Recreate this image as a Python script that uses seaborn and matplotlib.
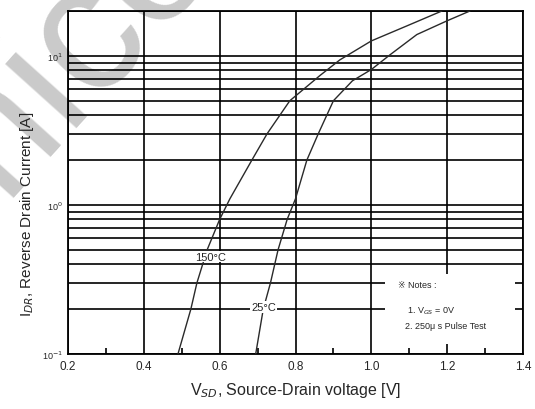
import matplotlib
matplotlib.use("Agg")
import matplotlib.pyplot as plt
from matplotlib.patches import Rectangle
from matplotlib.ticker import LogLocator, NullFormatter
import seaborn as sns
import pandas as pd
import numpy as np

# values
v_150 = [0.49, 0.524, 0.54, 0.567, 0.60, 0.627, 0.685, 0.725, 0.785, 0.865, 0.917, 1.0, 1.094, 1.186]
i_150 = [0.1, 0.2, 0.3, 0.5, 0.8, 1.1, 2, 3, 5, 7.4, 9.4, 12.6, 15.9, 20]
v_25 = [0.695, 0.715, 0.734, 0.754, 0.778, 0.80, 0.83, 0.86, 0.90, 0.95, 1.0, 1.05, 1.12, 1.2, 1.26]
i_25 = [0.1, 0.2, 0.3, 0.5, 0.8, 1.1, 2, 3, 5, 6.8, 8.1, 10.2, 13.9, 17.2, 20]

x_ticks = [0.2, 0.4, 0.6, 0.8, 1.0, 1.2, 1.4]
x_ticklabels = ["0.2", "0.4", "0.6", "0.8", "1.0", "1.2", "1.4"]
x_minor = [0.3, 0.5, 0.7, 0.9, 1.1, 1.3]
y_ticks = [0.1, 1, 10]
y_ticklabels = ["10$^{-1}$", "10$^{0}$", "10$^{1}$"]

curve_labels = ["150°C", "25°C"]
label_pos = [(0.577, 0.45), (0.716, 0.207)]
notes = ["※ Notes :", "1. V$_{GS}$ = 0V", "2. 250μ s Pulse Test"]

df = pd.concat([
    pd.DataFrame({"V": v_150, "I": i_150, "T": "150"}),
    pd.DataFrame({"V": v_25, "I": i_25, "T": "25"}),
])

sns.set_style("white")
plt.rcParams["font.family"] = ["Liberation Sans", "DejaVu Sans"]

fig = plt.figure(figsize=(5.35, 4.10), dpi=100)
ax = fig.add_axes([68 / 535, 1 - 355 / 410, 455 / 535, 343 / 410])
ax.patch.set_alpha(0)
ax.set_zorder(1)

# faint watermark behind the grid
fig.text(-35 / 535, 1 - 240 / 410, "mico", rotation=48, rotation_mode="anchor",
         ha="left", va="baseline", fontsize=130, color="#cacaca", zorder=0)

sns.lineplot(data=df, x="V", y="I", units="T", estimator=None, sort=False,
             color="#2a2a2a", lw=1.0, ax=ax, legend=False, zorder=3)

ax.set_yscale("log")
ax.set_xlim(0.2, 1.4)
ax.set_ylim(0.1, 20)

ax.set_xticks(x_ticks)
ax.set_xticklabels(x_ticklabels, fontsize=8.5)
ax.set_xticks(x_minor, minor=True)
ax.set_yticks(y_ticks)
ax.set_yticklabels(y_ticklabels, fontsize=6.5)
ax.yaxis.set_minor_locator(LogLocator(base=10, subs=range(2, 10)))
ax.yaxis.set_minor_formatter(NullFormatter())

ax.tick_params(axis="both", which="major", length=0, pad=4)
ax.tick_params(axis="y", which="minor", length=0)
ax.tick_params(axis="x", which="minor", direction="in", length=4, width=1.2,
               bottom=True, color="black")

ax.grid(False)
ax.xaxis.grid(True, which="major", color="black", lw=1.2)
ax.yaxis.grid(True, which="both", color="black", lw=1.2)
for s in ax.spines.values():
    s.set_color("black")
    s.set_linewidth(1.3)

for txt, (x, y) in zip(curve_labels, label_pos):
    ax.text(x, y, txt, fontsize=8, ha="center", va="center", zorder=4,
            bbox=dict(fc="white", ec="none", pad=0.6))

ax.add_patch(Rectangle((0.697, 0.029), 0.285, 0.204, transform=ax.transAxes,
                       fc="white", ec="none", zorder=2))
note_xy = [(398, 285), (407, 311), (405, 327)]
for txt, (px, py) in zip(notes, note_xy):
    ax.text((px - 68) / 455, (355 - py) / 343, txt, transform=ax.transAxes,
            fontsize=6.5, ha="left", va="center", zorder=4)

ax.set_xlabel("V$_{SD}$, Source-Drain voltage [V]", fontsize=11.5)
ax.set_ylabel("I$_{DR}$, Reverse Drain Current [A]", fontsize=11)
ax.xaxis.set_label_coords(0.5, -0.075)
ax.yaxis.set_label_coords(-0.07, 0.41)

fig.savefig("out.png", dpi=100)
